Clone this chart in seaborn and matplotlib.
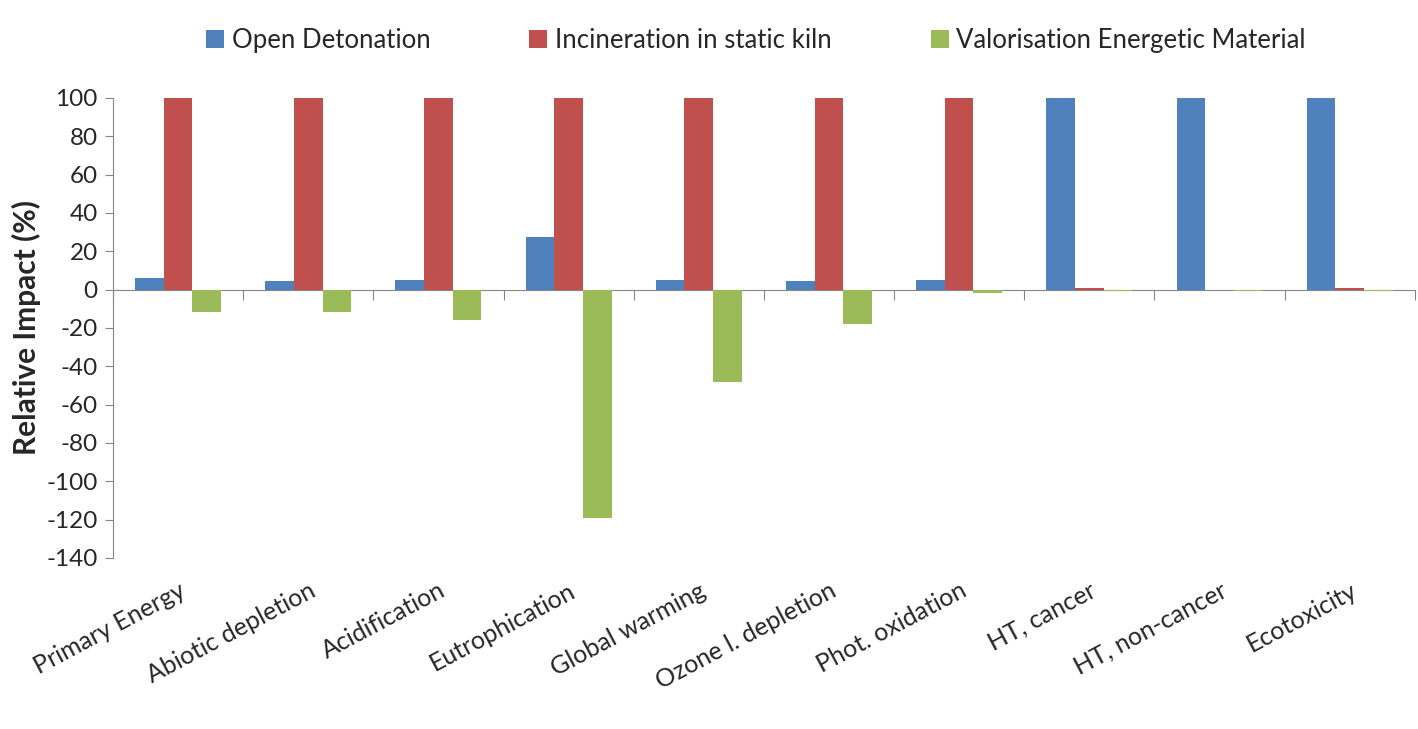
import numpy as np
import pandas as pd
import matplotlib
matplotlib.use('Agg')
import matplotlib.pyplot as plt
import seaborn as sns

categories = ['Primary Energy', 'Abiotic depletion', 'Acidification', 'Eutrophication',
              'Global warming', 'Ozone l. depletion', 'Phot. oxidation', 'HT, cancer',
              'HT, non-cancer', 'Ecotoxicity']
series = ['Open Detonation', 'Incineration in static kiln', 'Valorisation Energetic Material']
open_detonation = [6.3, 4.7, 5.2, 27.7, 5.0, 4.7, 5.2, 100, 100, 100]
incineration = [100, 100, 100, 100, 100, 100, 100, 0.7, 0.0, 0.7]
valorisation = [-11.5, -11.5, -16, -119, -48, -18, -2, -0.6, -0.6, -0.6]
colors = ['#4F81BD', '#C0504D', '#9BBB59']

df = pd.DataFrame({
    'category': categories * 3,
    'series': np.repeat(series, len(categories)),
    'value': open_detonation + incineration + valorisation,
})

sns.set_style('white')
plt.rcParams['font.family'] = ['Lato', 'DejaVu Sans']
plt.rcParams['axes.unicode_minus'] = False

fig = plt.figure(figsize=(14.18, 7.29), dpi=100)
ax = fig.add_axes([0.0797, 0.2346, 0.918, 0.631])

sns.barplot(data=df, x='category', y='value', hue='series', palette=colors,
            width=0.66, saturation=1, ax=ax, errorbar=None, legend=True, linewidth=0)

ax.set_xlim(-0.5, len(categories) - 0.5)
ax.set_ylim(-140, 100)
ax.set_yticks(np.arange(-140, 101, 20))
ax.tick_params(axis='y', labelsize=17.5, length=6, color='#868686', pad=5, left=True)
ax.set_ylabel('Relative Impact (%)', fontsize=21.5, fontweight='bold', labelpad=4)
ax.set_xlabel('')

# category labels at the bottom, no tick marks
ax.set_xticks(range(len(categories)))
ax.set_xticklabels(categories, rotation=28, ha='right', rotation_mode='anchor', fontsize=18)
ax.tick_params(axis='x', length=0, pad=15)

for s in ['top', 'right', 'bottom']:
    ax.spines[s].set_visible(False)
ax.spines['left'].set_color('#868686')

# category axis line at zero with boundary ticks (Excel style)
sec = ax.secondary_xaxis(140 / 240)
sec.set_xticks(np.arange(len(categories) + 1) - 0.5)
sec.set_xticklabels([])
sec.tick_params(axis='x', length=7, color='#868686', direction='in')
for sp in sec.spines.values():
    sp.set_color('#868686')

handles, labels = ax.get_legend_handles_labels()
ax.legend(handles, labels, loc='center', bbox_to_anchor=(0.533, 0.944),
          bbox_transform=fig.transFigure, ncol=3, frameon=False, fontsize=18.5,
          handlelength=0.7, handleheight=0.7, handletextpad=0.3, columnspacing=3.85)

fig.savefig('out.png', dpi=100)
